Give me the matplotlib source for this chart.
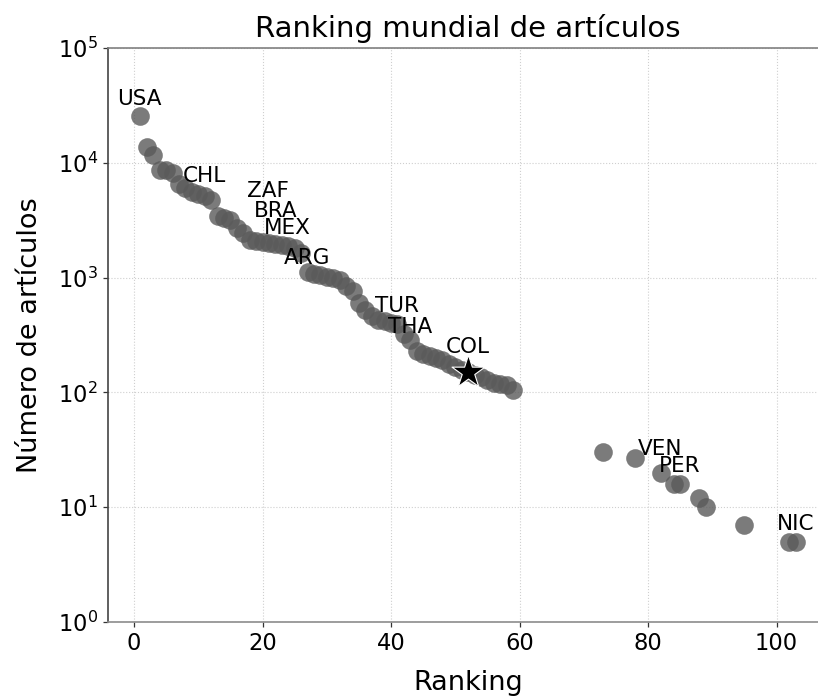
#!/usr/bin/env python

############# Required Packages ############
import matplotlib
matplotlib.use('Agg')
import matplotlib.pyplot as plt

############# DATA ############
ranks = list(range(1, 60)) + [73, 78, 82, 84, 85, 88, 89, 95, 102, 103]
articles = [25600, 13600, 11700, 8700, 8600, 8200, 6600, 6000, 5600, 5400,
            5100, 4750, 3450, 3300, 3150, 2700, 2430, 2130, 2080, 2030,
            2000, 1960, 1920, 1870, 1800, 1630, 1130, 1080, 1050, 1020,
            990, 950, 850, 760, 600, 520, 460, 430, 415, 405,
            395, 320, 285, 228, 215, 208, 200, 190, 178, 165,
            158, 150, 142, 135, 128, 120, 118, 115, 104,
            30, 27, 20, 16, 16, 12, 10, 7, 5, 5]

label_codes = ['USA', 'CHL', 'ZAF', 'BRA', 'MEX', 'ARG', 'TUR', 'THA', 'COL', 'VEN', 'PER', 'NIC']
label_ranks = [1, 11, 21, 22, 24, 27, 41, 43, 52, 82, 85, 103]
highlight = 'COL'

############# PLOT SETTINGS ############
fig_size        = (8.18, 6.98)
dpi_value       = 100
point_color     = '#5a5a5a'
point_alpha     = 0.8
point_size      = 180
star_size       = 620
title_size      = 21
label_size      = 19.5
tick_size       = 16.3
annot_size      = 15.5
# text offsets (pixels) from each labelled point, as laid out in the original
label_offsets   = [(-1, 11), (0, 14), (-1, 46), (0, 27), (-1, 12), (-1, 8),
                   (0, 12), (0, 7), (0, 19), (-1, 18), (0, 12), (0, 12)]

plt.rcParams['font.family'] = 'DejaVu Sans'

fig = plt.figure(figsize=fig_size, dpi=dpi_value)
ax = fig.add_axes([0.1317, 0.1089, 0.8812, 0.8223])

ax.scatter(ranks, articles, s=point_size, color=point_color, alpha=point_alpha,
           linewidths=0, zorder=3)

lookup = dict(zip(ranks, articles))
col_rank = label_ranks[label_codes.index(highlight)]
ax.scatter([col_rank], [lookup[col_rank]], marker='*', s=star_size, color='black',
           edgecolors='white', linewidths=0.8, zorder=5)

for code, rk, (dx, dy) in zip(label_codes, label_ranks, label_offsets):
    ax.annotate(code, (rk, lookup[rk]), xytext=(dx, dy), textcoords='offset pixels',
                ha='center', va='baseline', fontsize=annot_size, color='black', zorder=6)

ax.set_yscale('log')
ax.set_ylim(1, 1e5)
ax.minorticks_off()

ax.grid(True, which='major', linestyle=':', linewidth=0.8, color='#cfcfcf', zorder=0)
ax.set_axisbelow(True)

ax.spines['left'].set_color('#444444')
ax.spines['bottom'].set_color('#8c8c8c')
ax.spines['top'].set_color('#808080')
ax.spines['right'].set_color('#808080')
for spine in ax.spines.values():
    spine.set_linewidth(1.2)

ax.tick_params(axis='both', which='major', length=3.5, width=0.9, color='#333333',
               labelsize=tick_size)

ax.set_title('Ranking mundial de artículos', fontsize=title_size, pad=8)
ax.set_xlabel('Ranking', fontsize=label_size, labelpad=11)
ax.set_ylabel('Número de artículos', fontsize=label_size, labelpad=11)

fig.savefig('out.png', dpi=dpi_value)
